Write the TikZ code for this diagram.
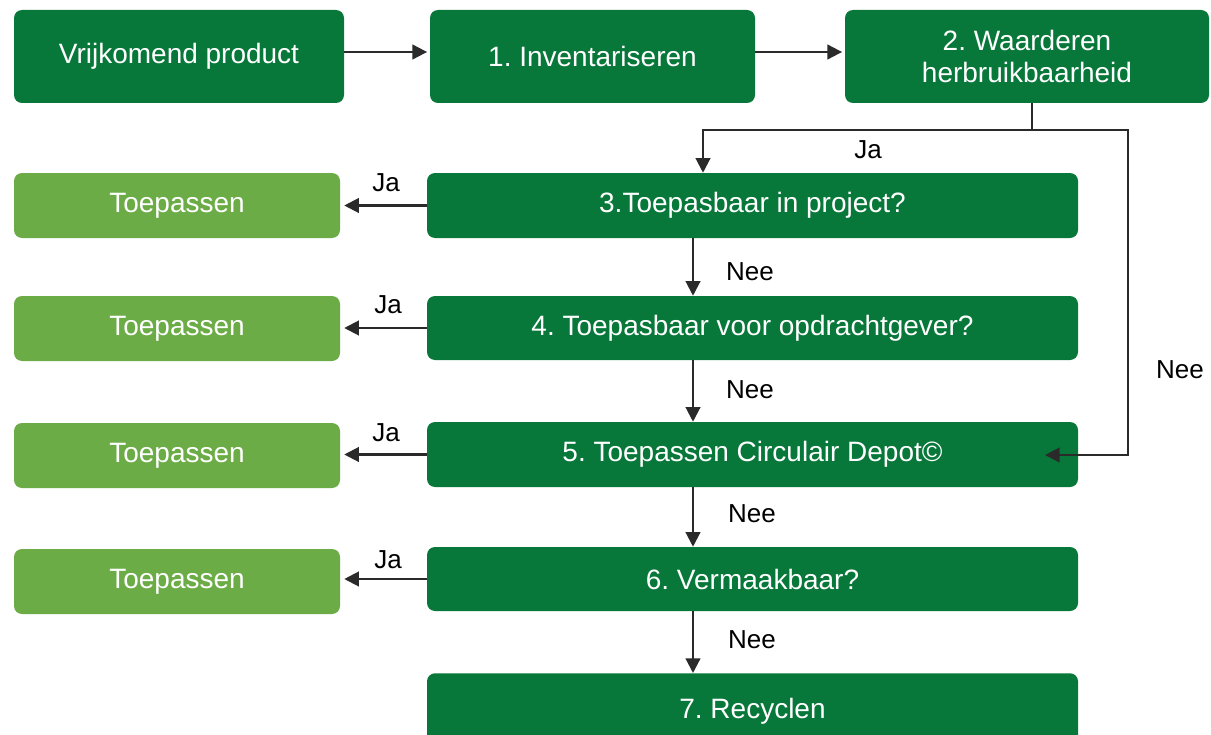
\documentclass[tikz,border=0pt]{standalone}
\usepackage{fontspec}
\setmainfont{Liberation Sans}
\usetikzlibrary{arrows.meta,calc}
\definecolor{dgreen}{HTML}{08783A}
\definecolor{lgreen}{HTML}{6CAC46}
\definecolor{lineg}{HTML}{2A2A2A}
\frenchspacing
\begin{document}
\begin{tikzpicture}[x=0.75pt,y=-0.75pt,
  box/.style={rectangle,rounded corners=6pt,fill=dgreen,text=white,
    font=\fontsize{21}{24}\selectfont\frenchspacing,align=center,inner sep=0pt},
  lbox/.style={box,fill=lgreen},
  conn/.style={draw=lineg,line width=1.6pt},
  arr/.style={conn,-{Triangle[length=11pt,width=11pt]}},
  lbl/.style={font=\fontsize{19.5}{22}\selectfont,text=black,inner sep=0pt}]
\clip (0,0) rectangle (1211,735);
\fill[white] (0,0) rectangle (1211,735);
% top row
\node[box,minimum width=330*0.75pt,minimum height=93*0.75pt] (vp) at (179,56.5) {Vrijkomend product};
\node[box,minimum width=325*0.75pt,minimum height=93*0.75pt] (inv) at (592.5,56.5) {1. Inventariseren};
\node[box,minimum width=364*0.75pt,minimum height=93*0.75pt] (waa) at (1027,56.5) {2. Waarderen\\herbruikbaarheid};
% main column
\node[box,minimum width=651*0.75pt,minimum height=65*0.75pt] (b3) at (752.5,205.5) {3.Toepasbaar in project?};
\node[box,minimum width=651*0.75pt,minimum height=64*0.75pt] (b4) at (752.5,328) {4. Toepasbaar voor opdrachtgever?};
\node[box,minimum width=651*0.75pt,minimum height=65*0.75pt] (b5) at (752.5,454.5) {5. Toepassen Circulair Depot©};
\node[box,minimum width=651*0.75pt,minimum height=64*0.75pt] (b6) at (752.5,579) {6. Vermaakbaar?};
\node[box,minimum width=651*0.75pt,minimum height=76*0.75pt,anchor=north] (b7) at (752.5,673) {7. Recyclen};
% left column
\node[lbox,minimum width=326*0.75pt,minimum height=65*0.75pt] (t3) at (177,205.5) {Toepassen};
\node[lbox,minimum width=326*0.75pt,minimum height=65*0.75pt] (t4) at (177,328.5) {Toepassen};
\node[lbox,minimum width=326*0.75pt,minimum height=65*0.75pt] (t5) at (177,455.5) {Toepassen};
\node[lbox,minimum width=326*0.75pt,minimum height=65*0.75pt] (t6) at (177,581.5) {Toepassen};
% helper coordinates
\coordinate (vx) at (693,0);
\coordinate (jx) at (703,0);
\coordinate (sx) at (1032,0);
\coordinate (split) at (1032,130);
\coordinate (rx) at (1128,0);
\coordinate (nend) at (1045,455);
\coordinate (ty) at (0,52);
% top arrows
\draw[arr,shorten >=2pt] (vp.east |- ty) -- (inv.west |- ty);
\draw[arr,shorten >=2pt] (inv.east |- ty) -- (waa.west |- ty);
% split from 2
\draw[conn] (waa.south -| sx) -- (split);
\draw[arr] (split) -| (b3.north -| jx);
\draw[arr] (split) -| ($(rx)+(0,455)$) -- (nend);
% Ja arrows
\draw[arr,shorten >=3pt] (b3.west) -- (b3.west -| t3.east);
\draw[arr,shorten >=3pt] (b4.west) -- (b4.west -| t4.east);
\draw[arr,shorten >=3pt] (b5.west) -- (b5.west -| t5.east);
\draw[arr,shorten >=3pt] (b6.west) -- (b6.west -| t6.east);
% Nee arrows
\draw[arr] (b3.south -| vx) -- (b4.north -| vx);
\draw[arr] (b4.south -| vx) -- (b5.north -| vx);
\draw[arr] (b5.south -| vx) -- (b6.north -| vx);
\draw[arr] (b6.south -| vx) -- (b7.north -| vx);
% labels
\node[lbl] (lja0) at (868,150) {Ja};
\node[lbl] (lja3) at (386,183) {Ja};
\node[lbl] (lja4) at (388,305) {Ja};
\node[lbl] (lja5) at (386,433) {Ja};
\node[lbl] (lja6) at (388,560) {Ja};
\node[lbl] (lnee3) at (750,272) {Nee};
\node[lbl] (lnee4) at (750,390) {Nee};
\node[lbl] (lnee5) at (752,514) {Nee};
\node[lbl] (lnee6) at (752,640) {Nee};
\node[lbl] (lneer) at (1180,370) {Nee};
\end{tikzpicture}
\end{document}
